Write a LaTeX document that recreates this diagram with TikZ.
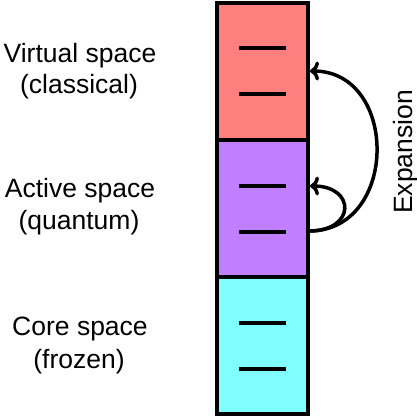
\documentclass[tikz,border=0pt]{standalone}
\usepackage{fontspec}
\setmainfont{Liberation Sans}
\usetikzlibrary{arrows.meta}
\definecolor{virtcol}{RGB}{255,127,127}
\definecolor{actcol}{RGB}{191,127,255}
\definecolor{corecol}{RGB}{127,255,255}
\tikzset{
  spacebox/.style={draw=black, line width=4pt, minimum width=91pt, minimum height=137pt, inner sep=0pt, outer sep=0pt},
  levelbar/.style={line width=4pt, black},
  lbl/.style={font=\fontsize{26.5}{32}\selectfont, anchor=base, inner sep=0pt},
  exparrow/.style={line width=3.5pt, -{To[length=9pt,width=19pt,line width=3.5pt]}}
}
\begin{document}
\begin{tikzpicture}[x=1pt,y=1pt]
\useasboundingbox (0,0) rectangle (417,-418);
% boxes
\node[spacebox, fill=virtcol] (virt) at (262.5,-71.5) {};
\node[spacebox, fill=actcol] (act) at (262.5,-208.5) {};
\node[spacebox, fill=corecol] (core) at (262.5,-345.5) {};
% levels
\coordinate (l1a) at (239,-48); \coordinate (l1b) at (286,-48);
\coordinate (l2a) at (239,-94); \coordinate (l2b) at (286,-94);
\coordinate (l3a) at (239,-186); \coordinate (l3b) at (286,-186);
\coordinate (l4a) at (239,-232); \coordinate (l4b) at (286,-232);
\coordinate (l5a) at (239,-323); \coordinate (l5b) at (286,-323);
\coordinate (l6a) at (239,-369); \coordinate (l6b) at (286,-369);
\draw[levelbar] (l1a) -- (l1b);
\draw[levelbar] (l2a) -- (l2b);
\draw[levelbar] (l3a) -- (l3b);
\draw[levelbar] (l4a) -- (l4b);
\draw[levelbar] (l5a) -- (l5b);
\draw[levelbar] (l6a) -- (l6b);
% arrows
\coordinate (src) at (309,-231);
\coordinate (tgtv) at (310,-71);
\coordinate (tgta) at (310,-186);
\draw[exparrow] (src) .. controls (399,-231) and (399,-71) .. (tgtv);
\draw[exparrow] (src) .. controls (356,-231) and (356,-186) .. (tgta);
\node[lbl, rotate=90] (exp) at (412,-152) {Expansion};
% labels
\node[lbl] (v1) at (80,-62) {Virtual space};
\node[lbl] (v2) at (79,-93) {(classical)};
\node[lbl] (a1) at (80,-197) {Active space};
\node[lbl] (a2) at (79,-229) {(quantum)};
\node[lbl] (c1) at (80,-335) {Core space};
\node[lbl] (c2) at (79,-368) {(frozen)};
\end{tikzpicture}
\end{document}
